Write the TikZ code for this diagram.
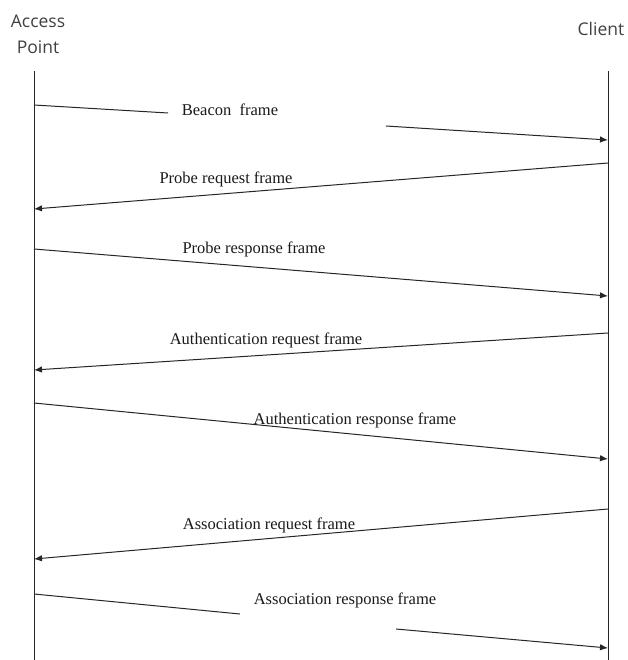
\documentclass[tikz,border=0pt]{standalone}
\usepackage{fontspec}
\setmainfont{Liberation Serif}
\newfontfamily\headfont{Open Sans}
\usetikzlibrary{arrows.meta}

\tikzset{
  lifeline/.style={line width=1pt,black!85},
  msg/.style={line width=1pt,black!85,-{Latex[length=8pt,width=6.5pt]}},
  msgpart/.style={line width=1pt,black!85},
  msglabel/.style={font=\fontsize{16.5}{19}\selectfont,inner sep=0pt,text=black!90},
  headlabel/.style={font=\headfont\fontsize{17.5}{26}\selectfont,align=center,text=black!75,inner sep=0pt}
}

\begin{document}
\begin{tikzpicture}[x=1pt,y=-1pt]
        \useasboundingbox (0,0) rectangle (627,660);

        % Heads
        \node[headlabel] (ap) at (38,34) {Access\\Point};
        \node[headlabel] (cl) at (601,29) {Client};

        % Lifelines
        \coordinate (apt) at (34,71);
        \coordinate (apb) at (34,660);
        \coordinate (clt) at (608,71);
        \coordinate (clb) at (608,660);
        \draw[lifeline] (apt) -- (apb);
        \draw[lifeline] (clt) -- (clb);

        % Message ends
        \coordinate (b1) at (34,105);   \coordinate (b1e) at (168,113);
        \coordinate (b2s) at (386,126); \coordinate (b2) at (608,140);
        \coordinate (p1) at (608,163);  \coordinate (p2) at (34,209);
        \coordinate (p3) at (34,249);   \coordinate (p4) at (608,296);
        \coordinate (a1) at (608,333);  \coordinate (a2) at (34,370);
        \coordinate (a3) at (34,403);   \coordinate (a4) at (608,459);
        \coordinate (s1) at (608,509);  \coordinate (s2) at (34,559);
        \coordinate (s3) at (34,594);   \coordinate (s3e) at (240,614);
        \coordinate (s4s) at (396,629); \coordinate (s4) at (608,648);

        % Messages
        \draw[msgpart] (b1) -- (b1e);
        \draw[msg] (b2s) -- (b2);
        \draw[msg] (p1) -- (p2);
        \draw[msg] (p3) -- (p4);
        \draw[msg] (a1) -- (a2);
        \draw[msg] (a3) -- (a4);
        \draw[msg] (s1) -- (s2);
        \draw[msgpart] (s3) -- (s3e);
        \draw[msg] (s4s) -- (s4);

        % Labels
        \node[msglabel] (lb) at (230,110) {Beacon\ \ frame};
        \node[msglabel] (lpq) at (226,179) {Probe request frame};
        \node[msglabel] (lpr) at (254,249) {Probe response frame};
        \node[msglabel] (laq) at (266,340) {Authentication request frame};
        \node[msglabel] (lar) at (355,420) {Authentication response frame};
        \node[msglabel] (lsq) at (269,525) {Association request frame};
        \node[msglabel] (lsr) at (345,600) {Association response frame};
    \end{tikzpicture}
\end{document}
